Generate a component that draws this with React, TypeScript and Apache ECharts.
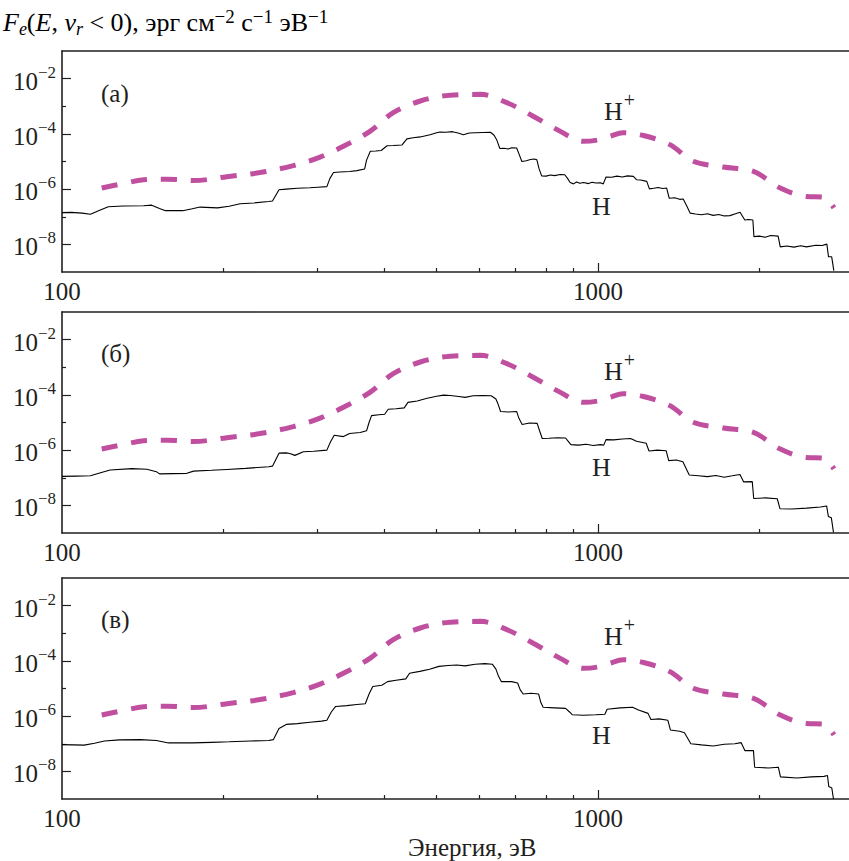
import React, { useEffect, useRef } from 'react';
import * as echarts from 'echarts';

// ---------- data ----------
const xTickLabels = [100, 1000];
const xMinorTicks = [200, 300, 400, 500, 600, 700, 800, 900, 2000];
const xLongTicks = [1000];
const yLabelExps = [-8, -6, -4, -2];
const yMinorExps = [-7, -5, -3];
const panelLabels = ['(а)', '(б)', '(в)'];

// H+ (dashed) — energy, eV / log10 flux (same in all panels)
const hPlusEnergy = [118.6, 130, 142, 157, 176, 203, 234, 270, 303, 335, 376, 415, 466, 530, 603, 676, 757, 849, 939, 1000, 1052, 1114, 1216, 1362, 1506, 1713, 1950, 2188, 2451, 2630, 2755];
const hPlusLogFlux = [-5.96, -5.8, -5.66, -5.64, -5.69, -5.55, -5.4, -5.15, -4.84, -4.45, -3.9, -3.23, -2.81, -2.6, -2.57, -2.87, -3.36, -3.9, -4.27, -4.22, -4.09, -3.96, -4.06, -4.39, -4.99, -5.2, -5.36, -5.96, -6.27, -6.29, -6.68];

// H (solid), panel (а)
const hEnergyA = [100, 104, 109, 113, 117, 122, 130, 142, 147, 152, 156, 168, 175, 181, 195, 205, 215, 228, 243, 247, 254, 262, 275, 290, 300, 312, 316, 321, 330, 344, 355, 367, 370, 376, 385, 394, 404, 415, 431, 440, 452, 466, 486, 500, 507, 520, 535, 548, 561, 575, 590, 610, 630, 640, 647, 656, 668, 680, 690, 705, 713, 721, 735, 748, 760, 769, 776, 785, 800, 815, 830, 850, 867, 878, 887, 900, 912, 925, 940, 960, 975, 990, 1010, 1023, 1035, 1060, 1085, 1110, 1135, 1164, 1180, 1200, 1233, 1247, 1270, 1295, 1320, 1343, 1358, 1390, 1420, 1442, 1465, 1486, 1520, 1560, 1600, 1640, 1680, 1720, 1762, 1800, 1841, 1860, 1879, 1910, 1945, 1954, 2000, 2050, 2100, 2168, 2188, 2250, 2320, 2390, 2449, 2550, 2620, 2673, 2692, 2729, 2754];
const hLogFluxA = [-6.85, -6.84, -6.87, -6.91, -6.78, -6.64, -6.61, -6.6, -6.58, -6.7, -6.78, -6.78, -6.71, -6.65, -6.68, -6.62, -6.53, -6.5, -6.45, -6.43, -6.02, -6.0, -5.97, -5.95, -5.93, -5.91, -5.62, -5.4, -5.38, -5.36, -5.33, -5.27, -4.95, -4.63, -4.62, -4.6, -4.43, -4.42, -4.4, -4.18, -4.14, -4.11, -4.03, -3.96, -3.93, -3.94, -3.92, -3.97, -4.03, -3.97, -3.96, -3.95, -3.94, -4.05, -4.21, -4.53, -4.52, -4.55, -4.5, -4.51, -4.75, -5.0, -4.97, -4.93, -4.91, -4.94, -5.25, -5.52, -5.53, -5.49, -5.51, -5.47, -5.48, -5.62, -5.76, -5.81, -5.74, -5.79, -5.76, -5.8, -5.75, -5.78, -5.77, -5.81, -5.56, -5.57, -5.53, -5.56, -5.52, -5.54, -5.66, -5.67, -5.72, -5.99, -5.97, -5.94, -5.98, -5.96, -6.33, -6.31, -6.37, -6.36, -6.62, -6.87, -6.9, -6.93, -6.89, -6.95, -6.92, -6.97, -6.96, -6.9, -6.84, -6.98, -7.12, -7.1, -7.12, -7.72, -7.7, -7.74, -7.68, -7.7, -8.09, -8.06, -8.1, -8.05, -8.09, -8.03, -8.04, -7.99, -8.45, -8.45, -8.95];

// H (solid), panel (б)
const hEnergyB = [100, 106, 113, 118, 123, 135, 144, 150, 152, 171, 176, 190, 203, 220, 243, 247, 254, 262, 266, 272, 282, 295, 312, 317, 322, 335, 344, 360, 370, 374, 378, 390, 400, 406, 420, 435, 442, 460, 480, 500, 515, 530, 550, 565, 585, 610, 632, 645, 650, 658, 680, 705, 712, 722, 745, 770, 778, 787, 810, 840, 870, 880, 890, 920, 950, 980, 1010, 1025, 1035, 1070, 1110, 1150, 1180, 1230, 1245, 1290, 1340, 1355, 1400, 1440, 1480, 1540, 1600, 1660, 1720, 1780, 1840, 1870, 1940, 1952, 2050, 2160, 2185, 2300, 2450, 2600, 2670, 2690, 2725, 2750];
const hLogFluxB = [-6.95, -6.94, -6.93, -6.82, -6.72, -6.67, -6.69, -6.78, -6.86, -6.84, -6.76, -6.73, -6.7, -6.66, -6.6, -6.58, -6.11, -6.1, -6.12, -6.19, -6.06, -6.04, -6.0, -5.7, -5.46, -5.51, -5.4, -5.36, -5.3, -5.0, -4.75, -4.72, -4.7, -4.52, -4.5, -4.47, -4.27, -4.22, -4.12, -4.05, -4.01, -4.02, -4.06, -4.09, -4.03, -4.02, -4.03, -4.15, -4.3, -4.6, -4.62, -4.6, -4.85, -5.07, -5.02, -5.03, -5.3, -5.58, -5.57, -5.55, -5.56, -5.68, -5.8, -5.82, -5.79, -5.83, -5.8, -5.82, -5.62, -5.63, -5.6, -5.58, -5.68, -5.75, -6.03, -6.0, -6.02, -6.38, -6.36, -6.42, -6.9, -6.93, -6.96, -6.92, -6.98, -6.93, -6.88, -7.15, -7.14, -7.75, -7.73, -7.76, -8.12, -8.13, -8.1, -8.06, -8.02, -8.4, -8.45, -8.98];

// H (solid), panel (в)
const hEnergyC = [100, 110, 115, 120, 128, 140, 150, 158, 175, 190, 205, 225, 243, 248, 254, 262, 275, 290, 305, 312, 318, 324, 340, 355, 368, 374, 380, 395, 405, 420, 438, 445, 465, 485, 505, 525, 545, 565, 590, 615, 635, 645, 652, 660, 690, 708, 716, 725, 750, 775, 782, 790, 830, 870, 885, 895, 940, 990, 1030, 1040, 1100, 1160, 1190, 1240, 1255, 1300, 1350, 1365, 1420, 1450, 1490, 1560, 1640, 1720, 1800, 1850, 1880, 1950, 1960, 2080, 2170, 2190, 2350, 2500, 2640, 2680, 2695, 2730, 2750];
const hLogFluxC = [-7.03, -7.05, -6.98, -6.9, -6.86, -6.85, -6.88, -6.97, -6.97, -6.95, -6.93, -6.9, -6.88, -6.85, -6.45, -6.3, -6.27, -6.22, -6.18, -6.15, -5.85, -5.65, -5.62, -5.58, -5.55, -5.2, -4.93, -4.88, -4.75, -4.7, -4.65, -4.45, -4.38, -4.3, -4.2, -4.17, -4.15, -4.18, -4.12, -4.1, -4.12, -4.3, -4.55, -4.75, -4.75, -4.8, -5.05, -5.2, -5.17, -5.2, -5.5, -5.68, -5.7, -5.72, -5.85, -5.95, -5.97, -5.95, -5.93, -5.75, -5.7, -5.68, -5.78, -5.9, -6.12, -6.1, -6.15, -6.5, -6.55, -6.6, -7.0, -7.04, -7.08, -7.02, -7.0, -6.96, -7.25, -7.25, -7.85, -7.88, -7.85, -8.2, -8.24, -8.2, -8.18, -8.15, -8.55, -8.6, -9.0];

const hEnergies = [hEnergyA, hEnergyB, hEnergyC];
const hLogFluxes = [hLogFluxA, hLogFluxB, hLogFluxC];

// ---------- layout ----------
const W = 849;
const H = 861;
const FONT = '"Liberation Serif", "Times New Roman", serif';
const TEXT = '#231f20';
const GRID_LEFT = 62;
const GRID_WIDTH = 787;
const DECADE_PX = 536;
const X_MIN = 2;
const X_MAX = 2 + GRID_WIDTH / DECADE_PX;
const Y_MIN = -9;
const Y_MAX = -1;
const gridTops = [51, 312, 578];
const gridHeight = 221;
const panelLabelY = [95, 355, 621];
const hPlusLabelY = [109, 369, 634];
const hLabelY = [207, 468, 736];

const axisLineStyle = { color: TEXT, width: 1.6 };

function buildOption() {
  const grid: any[] = [];
  const xAxis: any[] = [];
  const yAxis: any[] = [];
  const series: any[] = [];
  const graphic: any[] = [];

  for (let i = 0; i < 3; i++) {
    grid.push({ left: GRID_LEFT, width: GRID_WIDTH, top: gridTops[i], height: gridHeight, containLabel: false });
    xAxis.push({
      gridIndex: i, type: 'value', min: X_MIN, max: X_MAX, position: 'bottom',
      axisLine: { show: true, onZero: false, lineStyle: axisLineStyle },
      axisTick: { show: true, inside: true, length: 4, customValues: xMinorTicks.map(Math.log10), lineStyle: { color: TEXT, width: 1.2 } },
      axisLabel: {
        show: true, customValues: xTickLabels.map(Math.log10), margin: 7,
        formatter: (v: number) => String(Math.round(Math.pow(10, v))),
        fontFamily: FONT, fontSize: 25, color: TEXT,
      },
      splitLine: { show: false },
    });
    xAxis.push({
      gridIndex: i, type: 'value', min: X_MIN, max: X_MAX, position: 'bottom',
      axisLine: { show: false },
      axisTick: { show: true, inside: true, length: 9, customValues: xLongTicks.map(Math.log10), lineStyle: { color: TEXT, width: 1.2 } },
      axisLabel: { show: false },
      splitLine: { show: false },
    });
    xAxis.push({
      gridIndex: i, type: 'value', min: X_MIN, max: X_MAX, position: 'top',
      axisLine: { show: true, onZero: false, lineStyle: axisLineStyle },
      axisTick: { show: false }, axisLabel: { show: false }, splitLine: { show: false },
    });
    yAxis.push({
      gridIndex: i, type: 'value', min: Y_MIN, max: Y_MAX, position: 'left',
      axisLine: { show: true, onZero: false, lineStyle: axisLineStyle },
      axisTick: { show: true, inside: true, length: 9, customValues: yLabelExps, lineStyle: { color: TEXT, width: 1.2 } },
      axisLabel: {
        show: true, customValues: yLabelExps, margin: 6,
        formatter: (v: number) => `{b|10}{s|−${Math.abs(v)}}`,
        rich: {
          b: { fontFamily: FONT, fontSize: 25, color: TEXT, lineHeight: 30, verticalAlign: 'bottom' },
          s: { fontFamily: FONT, fontSize: 17, color: TEXT, lineHeight: 17, verticalAlign: 'top' },
        },
      },
      splitLine: { show: false },
    });
    yAxis.push({
      gridIndex: i, type: 'value', min: Y_MIN, max: Y_MAX, position: 'left',
      axisLine: { show: false },
      axisTick: { show: true, inside: true, length: 4, customValues: yMinorExps, lineStyle: { color: TEXT, width: 1.2 } },
      axisLabel: { show: false },
      splitLine: { show: false },
    });

    series.push({
      type: 'line', xAxisIndex: 3 * i, yAxisIndex: 2 * i, name: 'H+',
      data: hPlusEnergy.map((e, k) => [Math.log10(e), hPlusLogFlux[k]]),
      showSymbol: false, smooth: 0.35,
      lineStyle: { color: '#c0509f', width: 5, type: [16, 14], cap: 'butt' },
      z: 3,
    });
    series.push({
      type: 'line', xAxisIndex: 3 * i, yAxisIndex: 2 * i, name: 'H',
      data: hEnergies[i].map((e, k) => [Math.log10(e), hLogFluxes[i][k]]),
      showSymbol: false,
      lineStyle: { color: '#000', width: 1.1 },
      z: 4,
    });

    graphic.push({ type: 'text', left: 101, top: panelLabelY[i] - 14, style: { text: panelLabels[i], font: `25px ${FONT}`, fill: TEXT } });
    graphic.push({
      type: 'text', left: 604, top: hPlusLabelY[i] - 19,
      style: {
        text: '{b|H}{g| }{s|+}', fill: TEXT,
        rich: {
          b: { fontFamily: FONT, fontSize: 26, color: TEXT, lineHeight: 34, verticalAlign: 'bottom' },
          g: { fontFamily: FONT, fontSize: 4, lineHeight: 4, verticalAlign: 'top' },
          s: { fontFamily: FONT, fontSize: 20, color: TEXT, lineHeight: 18, verticalAlign: 'top' },
        },
      },
    });
    graphic.push({ type: 'text', left: 592, top: hLabelY[i] - 14, style: { text: 'H', font: `26px ${FONT}`, fill: TEXT } });
  }

  graphic.push({
    type: 'text', left: 3, top: 7,
    style: {
      text: '{i|F}{isub|e}{n|(}{i|E}{n|, }{i|v}{isub|r}{n| < 0), эрг см}{sup|−2}{n| с}{sup|−1}{n| эВ}{sup|−1}',
      rich: {
        i: { fontFamily: FONT, fontSize: 26, fontStyle: 'italic', color: TEXT, lineHeight: 31, verticalAlign: 'middle' },
        isub: { fontFamily: FONT, fontSize: 18, fontStyle: 'italic', color: TEXT, lineHeight: 16, verticalAlign: 'bottom' },
        n: { fontFamily: FONT, fontSize: 26, color: TEXT, lineHeight: 31, verticalAlign: 'middle' },
        sup: { fontFamily: FONT, fontSize: 19, color: TEXT, lineHeight: 17, verticalAlign: 'top' },
      },
    },
  });
  graphic.push({ type: 'text', left: 408, top: 835, style: { text: 'Энергия, эВ', font: `25px ${FONT}`, fill: TEXT } });

  return {
    animation: false,
    backgroundColor: '#fff',
    grid, xAxis, yAxis, series, graphic,
  };
}

export default function App() {
  const ref = useRef<HTMLDivElement>(null);
  useEffect(() => {
    document.body.style.margin = '0';
    if (!ref.current) return;
    const chart = echarts.init(ref.current, null, { renderer: 'svg', width: W, height: H });
    chart.setOption(buildOption());
    return () => chart.dispose();
  }, []);
  return <div ref={ref} style={{ position: 'absolute', left: 0, top: 0, width: W, height: H }} />;
}
